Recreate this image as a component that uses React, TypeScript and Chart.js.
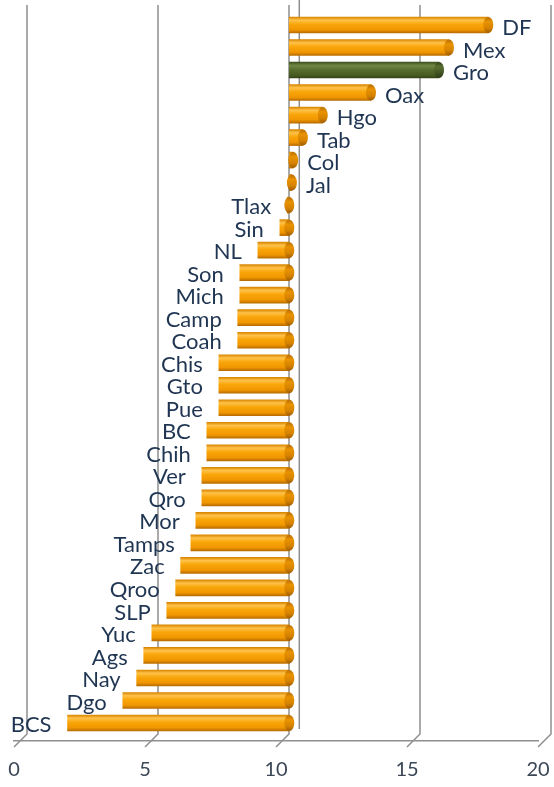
import React, { useEffect, useRef } from "react";
import { Chart, registerables } from "chart.js";

Chart.register(...registerables);

const categories = [
  "DF", "Mex", "Gro", "Oax", "Hgo", "Tab", "Col", "Jal", "Tlax", "Sin", "NL",
  "Son", "Mich", "Camp", "Coah", "Chis", "Gto", "Pue", "BC", "Chih", "Ver",
  "Qro", "Mor", "Tamps", "Zac", "Qroo", "SLP", "Yuc", "Ags", "Nay", "Dgo", "BCS",
];
const values = [
  18.0, 16.5, 16.12, 13.52, 11.68, 10.92, 10.55, 10.5, 10.32, 10.04, 9.2,
  8.51, 8.51, 8.43, 8.43, 7.71, 7.71, 7.71, 7.25, 7.25, 7.06,
  7.06, 6.83, 6.64, 6.25, 6.06, 5.72, 5.15, 4.84, 4.57, 4.04, 1.93,
];
const baseline = 10.4;
const highlighted = "Gro";
const xTicks = [0, 5, 10, 15, 20];

const LINE = "#8f8f8f";
const LABEL = "#1f3552";

function bodyGradient(ctx: CanvasRenderingContext2D, y: number, h: number, green: boolean) {
  const g = ctx.createLinearGradient(0, y - h / 2, 0, y + h / 2);
  if (green) {
    g.addColorStop(0, "#3d4f1e");
    g.addColorStop(0.22, "#6f8744");
    g.addColorStop(0.5, "#566c2e");
    g.addColorStop(0.85, "#46591f");
    g.addColorStop(1, "#34431a");
  } else {
    g.addColorStop(0, "#d98600");
    g.addColorStop(0.2, "#ffc24a");
    g.addColorStop(0.45, "#f9a60a");
    g.addColorStop(0.8, "#f09600");
    g.addColorStop(1, "#b96d00");
  }
  return g;
}

function capGradient(ctx: CanvasRenderingContext2D, y: number, h: number, green: boolean) {
  const g = ctx.createLinearGradient(0, y - h / 2, 0, y + h / 2);
  if (green) {
    g.addColorStop(0, "#34441a");
    g.addColorStop(0.3, "#5a7032");
    g.addColorStop(1, "#2e3b15");
  } else {
    g.addColorStop(0, "#b86e00");
    g.addColorStop(0.3, "#e99300");
    g.addColorStop(0.7, "#d58200");
    g.addColorStop(1, "#9d5c00");
  }
  return g;
}

const cylinderPlugin = {
  id: "cylinderPlugin",
  beforeDatasetsDraw(chart: any) {
    const { ctx, chartArea, scales } = chart;
    const fx = scales.x;
    const bx = scales.x2;
    ctx.save();
    ctx.strokeStyle = LINE;
    ctx.lineWidth = 1.5;
    // back wall gridlines and floor diagonals
    xTicks.forEach((v) => {
      const xf = fx.getPixelForValue(v);
      const xb = xf + 13;
      ctx.beginPath();
      ctx.moveTo(xb, chartArea.top);
      ctx.lineTo(xb, chartArea.bottom - 7);
      ctx.lineTo(xf, chartArea.bottom + 6);
      ctx.stroke();
    });
    // category axis line at the crossing value
    const xc = bx.getPixelForValue(baseline) + 10;
    ctx.beginPath();
    ctx.moveTo(xc, chartArea.top - 5);
    ctx.lineTo(xc, chartArea.bottom - 12);
    ctx.stroke();
    ctx.restore();

    const meta = chart.getDatasetMeta(0);
    meta.data.forEach((el: any, i: number) => {
      const green = categories[i] === highlighted;
      el.options = { ...el.options, backgroundColor: bodyGradient(ctx, el.y, el.height, green) };
    });
  },
  afterDatasetsDraw(chart: any) {
    const { ctx, scales } = chart;
    const bx = scales.x2;
    const meta = chart.getDatasetMeta(0);
    ctx.save();
    meta.data.forEach((el: any, i: number) => {
      const green = categories[i] === highlighted;
      const right = Math.max(el.x, el.base);
      const h = el.height;
      ctx.beginPath();
      ctx.ellipse(right, el.y, 5, h / 2, 0, 0, Math.PI * 2);
      ctx.fillStyle = capGradient(ctx, el.y, h, green);
      ctx.fill();
    });
    ctx.font = "22px Lato";
    ctx.fillStyle = LABEL;
    ctx.textBaseline = "middle";
    meta.data.forEach((el: any, i: number) => {
      const v = values[i];
      if (v >= baseline) {
        ctx.textAlign = "left";
        ctx.fillText(categories[i], bx.getPixelForValue(v) + 14, el.y + 3);
      } else {
        ctx.textAlign = "right";
        ctx.fillText(categories[i], bx.getPixelForValue(v) - 16, el.y + 2);
      }
    });
    ctx.restore();
  },
};

export default function App() {
  const ref = useRef<HTMLCanvasElement | null>(null);
  useEffect(() => {
    if (!ref.current) return;
    const chart = new Chart(ref.current, {
      type: "bar",
      data: {
        datasets: [
          {
            data: values.map((v, i) => ({ x: [baseline, v], y: i })) as any,
            backgroundColor: "#f5a000",
            borderWidth: 0,
            barThickness: 16,
            xAxisID: "x2",
            yAxisID: "y",
          },
        ],
      },
      options: {
        indexAxis: "y",
        animation: false,
        responsive: false,
        maintainAspectRatio: false,
        layout: { padding: { left: 14, right: 16, top: 5, bottom: 5 } },
        plugins: { legend: { display: false }, tooltip: { enabled: false } },
        scales: {
          x: {
            type: "linear",
            position: "bottom",
            min: 0,
            max: 20,
            offset: false,
            ticks: {
              stepSize: 5,
              font: { family: "Lato", size: 20 },
              color: "#3b4656",
              padding: 0,
            },
            grid: {
              display: true,
              drawOnChartArea: false,
              drawTicks: true,
              tickLength: 17,
              color: "rgba(0,0,0,0)",
            },
            border: { display: true, color: LINE, width: 1.5 },
          },
          x2: {
            type: "linear",
            axis: "x",
            position: "bottom",
            display: false,
            offset: false,
            min: -0.115,
            max: 19.9,
            ticks: { display: false },
            grid: { display: false, drawTicks: false },
          },
          y: {
            type: "linear",
            reverse: true,
            display: false,
            offset: false,
            min: -0.888,
            max: 31.8,
            ticks: { display: false },
            grid: { display: false, drawTicks: false, offset: false },
          },
        },
      } as any,
      plugins: [cylinderPlugin],
    });
    return () => chart.destroy();
  }, []);
  return (
    <div style={{ position: "fixed", left: 0, top: 0, width: 554, height: 787, background: "#fff" }}>
      <canvas ref={ref} width={554} height={787} style={{ display: "block" }} />
    </div>
  );
}
